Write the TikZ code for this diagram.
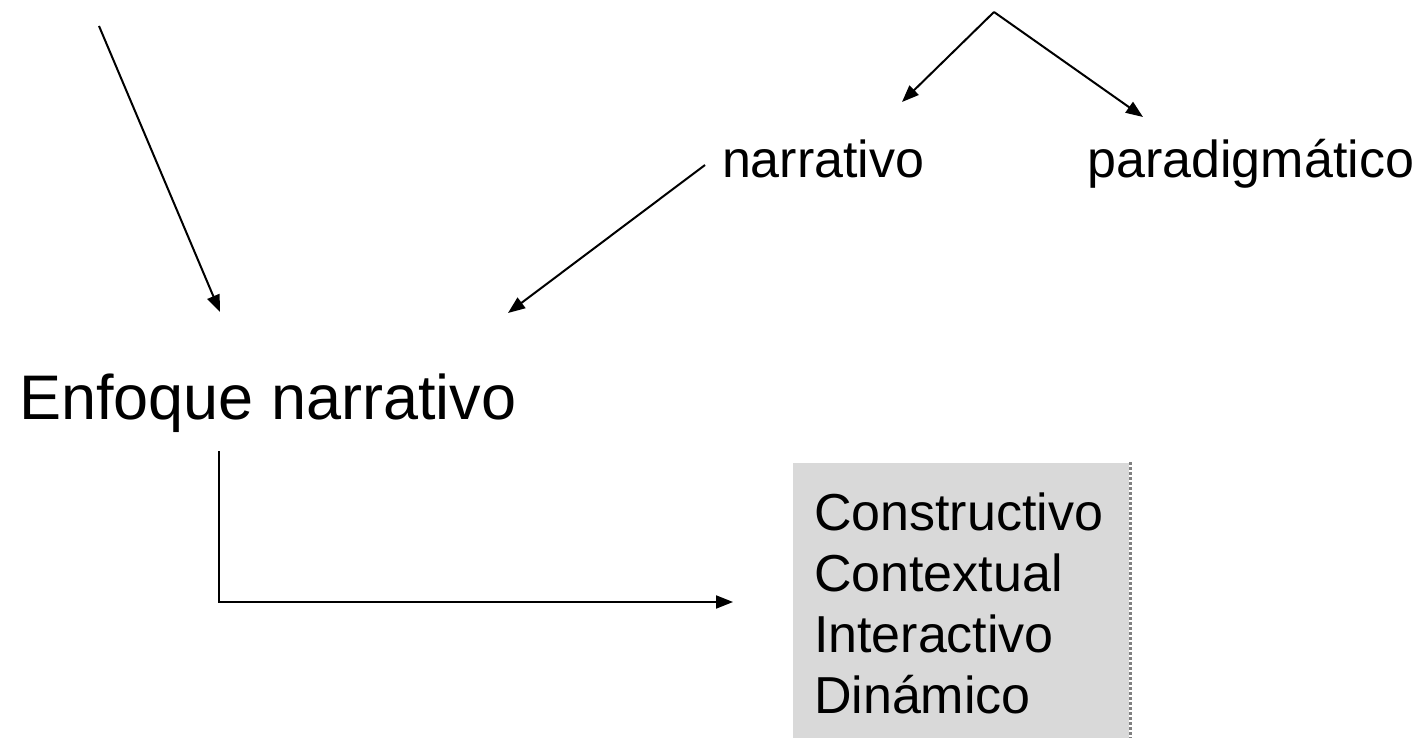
\documentclass[tikz,border=0pt]{standalone}
\usepackage{fontspec}
\setmainfont{Liberation Sans}
\usetikzlibrary{arrows.meta}

\begin{document}
\begin{tikzpicture}[x=0.5pt,y=-0.5pt,line width=1pt,
  tip/.style={-{Triangle[length=8.5pt,width=6.5pt]}},
  big/.style={font=\fontsize{31.5}{38}\selectfont, inner sep=0},
  small/.style={font=\fontsize{26}{31}\selectfont, inner sep=0}]

\useasboundingbox (0,0) rectangle (1425,738);

\node[big, anchor=base west] (enfoque) at (18,419) {Enfoque narrativo};
\node[small, anchor=base west] (narr) at (721,177) {narrativo};
\node[small, anchor=base east] (parad) at (1415,177) {paradigmático};

\node[anchor=north west, fill={rgb,255:red,217;green,217;blue,217}, inner xsep=10.5pt, inner ysep=15pt,
      text width=147pt, align=left, font=\fontsize{26}{30.5}\selectfont] (rasgos) at (792,462)
      {Constructivo\\Contextual\\Interactivo\\Din\'amico};
\draw[gray, densely dotted, line width=1.5pt] (rasgos.north east) -- (rasgos.south east);

\coordinate (origen) at (99,26);
\coordinate (enfoqueA) at (220,312);
\coordinate (enfoqueB) at (508,313);
\coordinate (narrA) at (705,165);
\coordinate (cima) at (994,12);
\coordinate (narrB) at (902,102);
\coordinate (paradB) at (1143,117);
\coordinate (enfoqueC) at (219,451);
\coordinate (rasgosA) at (733,602);

\draw[tip] (origen) -- (enfoqueA);
\draw[tip] (narrA) -- (enfoqueB);
\draw[tip] (cima) -- (narrB);
\draw[tip] (cima) -- (paradB);
\draw[tip] (enfoqueC) |- (rasgosA);

\end{tikzpicture}
\end{document}
